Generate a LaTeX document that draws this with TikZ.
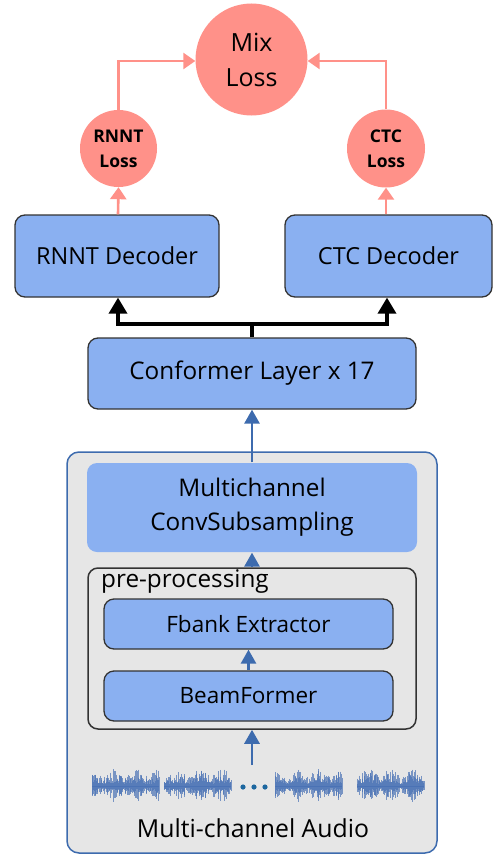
\documentclass[tikz,border=0pt]{standalone}
\usepackage{fontspec}
\setmainfont{Open Sans}
\usetikzlibrary{arrows.meta,positioning}
\definecolor{boxblue}{HTML}{8AB0F1}
\definecolor{losspink}{HTML}{FF9189}
\definecolor{flowblue}{HTML}{3D6BAE}
\definecolor{panelgray}{HTML}{E6E6E6}
\definecolor{edgegray}{HTML}{333333}
\definecolor{wavec}{HTML}{4A72B5}
\definecolor{dotblue}{HTML}{1D679F}
\tikzset{
  blk/.style={draw=edgegray, rounded corners=10pt, line width=1.3pt, fill=boxblue, align=center, inner sep=0pt, font=\fontsize{22.5}{28}\selectfont},
  lossc/.style={circle, fill=losspink, align=center, inner sep=0pt},
  panel/.style={draw=flowblue, fill=panelgray, rounded corners=12pt, line width=1.5pt, inner sep=0pt},
  prebox/.style={draw=edgegray, rounded corners=10pt, line width=1.5pt, inner sep=0pt},
  arb/.style={-{Triangle[length=14pt,width=15pt]}, line width=2.8pt, draw=flowblue},
  ark/.style={-{Triangle[length=16pt,width=18pt]}, line width=3.5pt, draw=black},
  arp/.style={-{Triangle[length=12pt,width=16pt]}, line width=2.6pt, draw=losspink},
}

\begin{document}
\begin{tikzpicture}[x=1pt, y=-1pt]
  \useasboundingbox (0,0) rectangle (501,867);
  % audio front end
  \node[panel, minimum width=370, minimum height=401] (panel) at (252,652.5) {};
  \node[blk, draw=none, fill=boxblue, minimum width=330, minimum height=89, font=\fontsize{24.3}{34}\selectfont] (subsamp) at (252,507.5) {Multichannel\\ConvSubsampling};
  \node[prebox, minimum width=328, minimum height=161] (pre) at (252,648.5) {};
  \node[anchor=base west, inner sep=0pt, font=\fontsize{24.3}{28}\selectfont] (prelbl) at (101,587) {pre-processing};
  \node[blk, minimum width=289, minimum height=50] (fbank) at (248.5,624) {Fbank Extractor};
  \node[blk, minimum width=289, minimum height=50] (beam) at (248.5,696) {BeamFormer};
  \node[font=\fontsize{24.8}{28}\selectfont, inner sep=0pt] (audiolbl) at (253,828) {Multi-channel Audio};
  \coordinate (wavetop) at (252,765);
  % waveforms
  \pgfmathsetseed{11}
  \foreach \wx in {92,164,275,357}{
    \draw[wavec, line width=0.8pt] (\wx,786) -- ++(67,0);
    \foreach \k in {0,...,134}{
      \pgfmathsetmacro{\amp}{17*(0.2+0.8*rnd^1.5)*(0.5+0.5*abs(sin(\k*4+\wx)))}
      \draw[wavec, line width=0.5pt, opacity=0.7] ({\wx+\k*0.5},{786-\amp}) -- ({\wx+\k*0.5},{786+\amp*(0.75+0.25*rnd)});
    }
  }
  \foreach \dx in {243,254,265}
    \fill[dotblue] (\dx,787) circle (2.6);
  % encoder and decoders
  \node[blk, minimum width=328, minimum height=71, font=\fontsize{24.3}{28}\selectfont] (conf) at (252,373.5) {Conformer Layer x 17};
  \node[blk, minimum width=204, minimum height=82, font=\fontsize{23.5}{28}\selectfont] (rnntdec) at (117,256) {RNNT Decoder};
  \node[blk, minimum width=207, minimum height=82, font=\fontsize{23.5}{28}\selectfont] (ctcdec) at (388.5,256) {CTC Decoder};
  \coordinate (split) at (252,324);
  % losses
  \node[lossc, minimum size=112, font=\fontsize{25}{35}\selectfont] (mixloss) at (251.5,59.5) {Mix\\Loss};
  \node[lossc, minimum size=77, font=\bfseries\fontsize{17.5}{25}\selectfont] (rnntloss) at (118.5,148.5) {RNNT\\Loss};
  \node[lossc, minimum size=78, font=\bfseries\fontsize{17.5}{25}\selectfont] (ctcloss) at (386,148.5) {CTC\\Loss};
  % arrows
  \draw[arb] (wavetop) -- (pre.south);
  \draw[arb] (beam.north) -- (fbank.south);
  \draw[arb] (pre.north) -- (subsamp.south);
  \draw[arb] (subsamp.north) -- (conf.south);
  \draw[ark] (conf.north) -- (split) -| ([xshift=1pt]rnntdec.south);
  \draw[ark] (split) -| ([xshift=-1.5pt]ctcdec.south);
  \draw[arp] ([xshift=1pt]rnntdec.north) -- (rnntloss.south);
  \draw[arp] (ctcdec.north -| ctcloss.south) -- (ctcloss.south);
  \draw[arp] (rnntloss.north) |- ([yshift=-1.5pt]mixloss.west);
  \draw[arp] (ctcloss.north) |- ([yshift=-1.5pt]mixloss.east);
\end{tikzpicture}
\end{document}
